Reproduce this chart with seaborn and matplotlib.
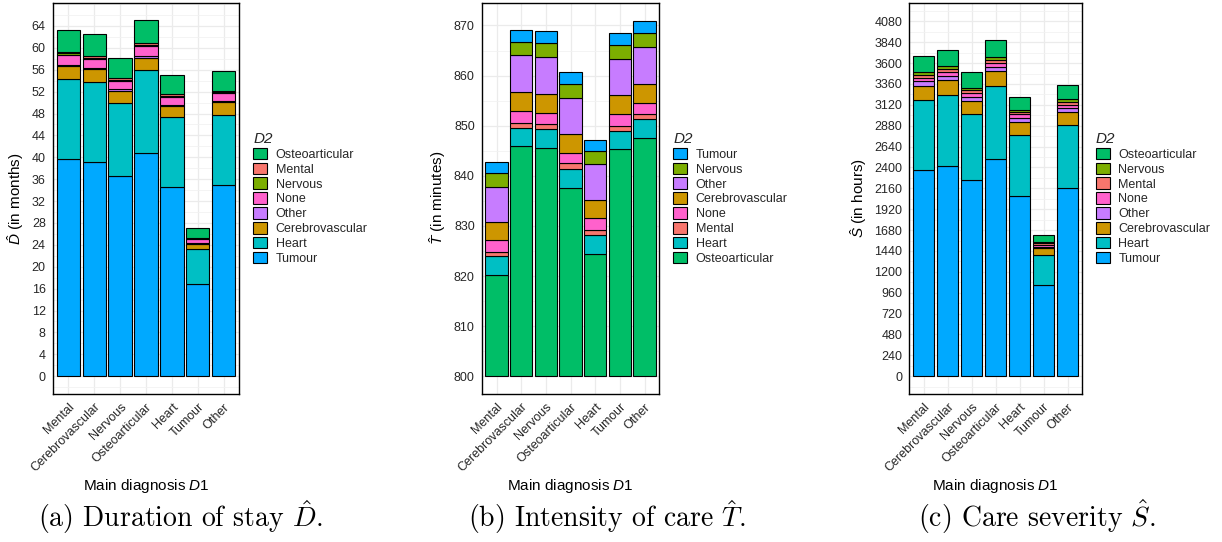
import numpy as np
import pandas as pd
import matplotlib
matplotlib.use("Agg")
import matplotlib.pyplot as plt
import seaborn as sns
from matplotlib.ticker import MultipleLocator

# ---------------- data ----------------
main_diag = ["Mental", "Cerebrovascular", "Nervous", "Osteoarticular", "Heart", "Tumour", "Other"]

# (a) Duration of stay (months): segment heights per D2, in main_diag order
dur = {
    "Tumour":          [39.6, 39.2, 36.5, 40.7, 34.5, 16.9, 35.0],
    "Heart":           [14.7, 14.5, 13.5, 15.2, 12.8, 6.3, 12.8],
    "Cerebrovascular": [2.4, 2.4, 2.2, 2.3, 2.1, 0.9, 2.3],
    "Other":           [0.2, 0.3, 0.3, 0.3, 0.2, 0.2, 0.2],
    "None":            [1.8, 1.5, 1.5, 1.8, 1.5, 0.7, 1.4],
    "Nervous":         [0.3, 0.3, 0.2, 0.2, 0.1, 0.2, 0.2],
    "Mental":          [0.2, 0.3, 0.3, 0.3, 0.3, 0.1, 0.3],
    "Osteoarticular":  [4.0, 4.1, 3.7, 4.2, 3.5, 1.7, 3.5],
}
dur_legend = ["Osteoarticular", "Mental", "Nervous", "None", "Other",
              "Cerebrovascular", "Heart", "Tumour"]
dur_ticks = list(range(0, 65, 4))

# (b) Intensity of care (minutes)
inten = {
    "Osteoarticular":  [820.2, 845.9, 845.6, 837.6, 824.4, 845.3, 847.6],
    "Heart":           [3.7, 3.7, 3.7, 3.7, 3.7, 3.7, 3.8],
    "Mental":          [0.9, 1.0, 1.0, 1.2, 1.0, 1.0, 1.0],
    "None":            [2.3, 2.4, 2.3, 2.1, 2.4, 2.4, 2.1],
    "Cerebrovascular": [3.6, 3.7, 3.8, 3.8, 3.6, 3.7, 3.9],
    "Other":           [7.1, 7.5, 7.3, 7.2, 7.2, 7.3, 7.4],
    "Nervous":         [2.7, 2.6, 2.8, 2.8, 2.7, 2.8, 2.7],
    "Tumour":          [2.3, 2.3, 2.4, 2.3, 2.2, 2.3, 2.4],
}
inten_legend = ["Tumour", "Nervous", "Other", "Cerebrovascular", "None",
                "Mental", "Heart", "Osteoarticular"]
inten_ticks = list(range(800, 871, 10))

# (c) Care severity (hours)
sev = {
    "Tumour":          [2371, 2420, 2252, 2493, 2073, 1044, 2160],
    "Heart":           [810, 819, 765, 841, 703, 352, 731],
    "Cerebrovascular": [156, 171, 148, 171, 146, 76, 149],
    "Other":           [54, 45, 46, 46, 42, 19, 42],
    "None":            [38, 46, 50, 50, 46, 19, 42],
    "Mental":          [31, 35, 30, 30, 27, 20, 31],
    "Nervous":         [38, 34, 23, 38, 26, 15, 30],
    "Osteoarticular":  [179, 183, 180, 195, 153, 76, 168],
}
sev_legend = ["Osteoarticular", "Nervous", "Mental", "None", "Other",
              "Cerebrovascular", "Heart", "Tumour"]
sev_ticks = list(range(0, 4081, 240))

palette = {"Mental": "#F8766D", "Cerebrovascular": "#CD9600", "Nervous": "#7CAE00",
           "Osteoarticular": "#00BE67", "Heart": "#00BFC4", "Tumour": "#00A9FF",
           "Other": "#C77CFF", "None": "#FF61CC"}

# ---------------- style ----------------
sns.set_theme(style="white")
plt.rcParams["font.family"] = ["Liberation Sans", "DejaVu Sans"]
plt.rcParams["mathtext.fontset"] = "custom"
plt.rcParams["mathtext.rm"] = "Liberation Sans"
plt.rcParams["mathtext.it"] = "Liberation Sans:italic"
plt.rcParams["mathtext.bf"] = "Liberation Sans:bold"

W, H = 1222, 542
fig = plt.figure(figsize=(W / 100, H / 100), dpi=100)

panels = [
    dict(data=dur, legend=dur_legend, ticks=dur_ticks, left=52.7, right=239.3,
         ylim=(-3.25, 68.25), minor=2, ylabel=r"$\hat{D}$ (in months)", base=None,
         caption=r"(a) Duration of stay $\hat{D}$.", cx=180),
    dict(data=inten, legend=inten_legend, ticks=inten_ticks, left=481.7, right=659.3,
         ylim=(796.45, 874.55), minor=5, ylabel=r"$\hat{T}$ (in minutes)", base=800,
         caption=r"(b) Intensity of care $\hat{T}$.", cx=607),
    dict(data=sev, legend=sev_legend, ticks=sev_ticks, left=909.3, right=1082,
         ylim=(-204.5, 4294.5), minor=120, ylabel=r"$\hat{S}$ (in hours)", base=None,
         caption=r"(c) Care severity $\hat{S}$.", cx=1037),
]

top_px, bot_px = 2.7, 394.0
for p in panels:
    rows = []
    for d2, vals in p["data"].items():
        for d1, v in zip(main_diag, vals):
            rows.append({"D1": d1, "D2": d2, "value": v})
    df = pd.DataFrame(rows)
    df["D1"] = pd.Categorical(df["D1"], categories=main_diag, ordered=True)

    ax = fig.add_axes([p["left"] / W, 1 - bot_px / H,
                       (p["right"] - p["left"]) / W, (bot_px - top_px) / H])
    sns.histplot(data=df, x="D1", hue="D2", weights="value", multiple="stack",
                 discrete=True, shrink=0.9, hue_order=p["legend"], palette=palette,
                 alpha=1, edgecolor="black", linewidth=0.8, ax=ax, legend=True)

    if p["base"] is not None:
        b = p["base"]
        for patch in ax.patches:
            y0, h = patch.get_y(), patch.get_height()
            if y0 < b:
                patch.set_y(b)
                patch.set_height(y0 + h - b)

    ax.set_xlim(-0.6, 6.6)
    ax.set_ylim(*p["ylim"])
    ax.set_yticks(p["ticks"])
    ax.yaxis.set_minor_locator(MultipleLocator(p["minor"]))
    ax.set_xticks(range(len(main_diag)))
    ax.set_xticklabels(main_diag, rotation=45, ha="right", rotation_mode="anchor")
    ax.tick_params(axis="both", which="major", labelsize=9, labelcolor="#262626",
                   length=3, width=0.6, color="#333333", pad=2)
    ax.tick_params(axis="both", which="minor", length=0)
    ax.set_axisbelow(True)
    ax.grid(True, which="major", color="#EBEBEB", linewidth=0.9)
    ax.grid(True, which="minor", axis="y", color="#F2F2F2", linewidth=0.6)
    for s in ax.spines.values():
        s.set_color("black")
        s.set_linewidth(1.0)
    ax.set_ylabel(p["ylabel"], fontsize=11, color="black", labelpad=4)
    ax.set_xlabel(r"Main diagnosis $\mathit{D}$1", fontsize=11, color="black", labelpad=2)

    sns.move_legend(ax, "center left", bbox_to_anchor=(1.0 + 14 / (p["right"] - p["left"]), 0.5),
                    frameon=False, title="D2", fontsize=9, title_fontsize=11,
                    handlelength=1.12, handleheight=1.06, labelspacing=0.14,
                    handletextpad=0.67, borderaxespad=0, borderpad=0, alignment="left")
    leg = ax.get_legend()
    leg.get_title().set_fontstyle("italic")
    for h in leg.legend_handles:
        h.set_edgecolor("black")
        h.set_linewidth(0.8)

    fig.text(p["cx"] / W, 1 - 517 / H, p["caption"], family="cmr10", math_fontfamily="cm",
             fontsize=20, ha="center", va="center", color="black")

fig.savefig("out.png", dpi=100)
